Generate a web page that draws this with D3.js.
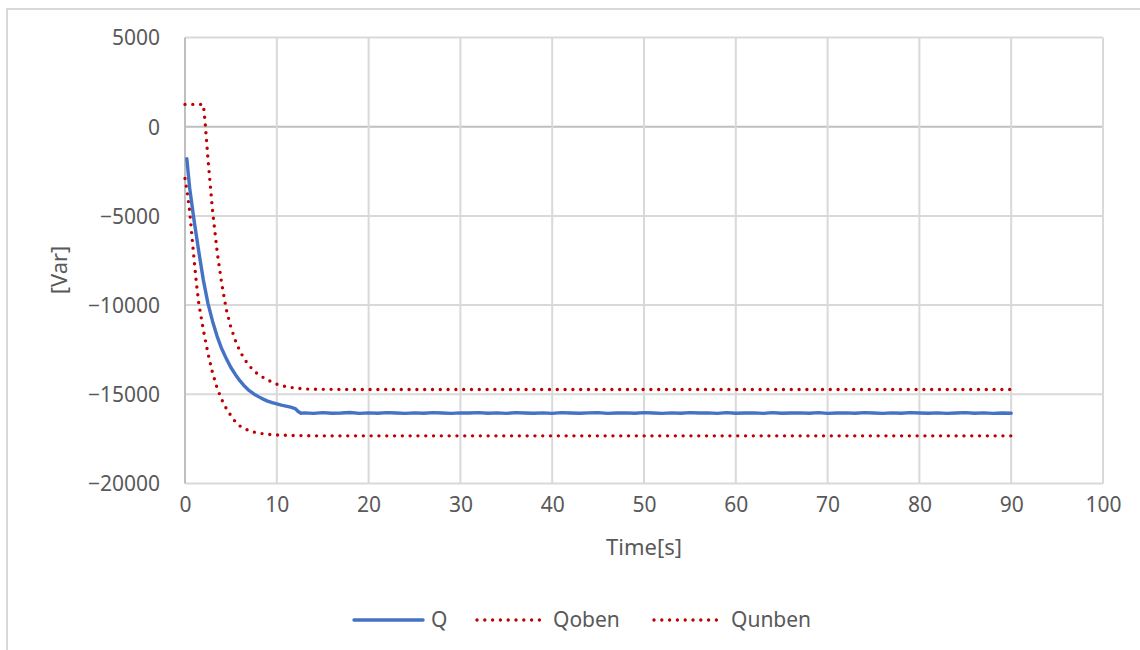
<!DOCTYPE html>
<html>
<head>
<meta charset="utf-8">
<script src="https://cdn.jsdelivr.net/npm/d3@7"></script>
<style>
  html, body { margin: 0; padding: 0; background: #fff; }
  svg { display: block; }
  text { font-family: "Noto Sans", sans-serif; fill: #595959; }
</style>
</head>
<body>
<svg id="chart" width="1140" height="650"></svg>
<script>
// ---- Data ----
const xTicks = [0, 10, 20, 30, 40, 50, 60, 70, 80, 90, 100];
const yTicks = [5000, 0, -5000, -10000, -15000, -20000];

const qTime = [0.2, 0.5, 1.0, 1.5, 2.0, 2.5, 3.0, 3.5, 4.0, 4.5, 5.0, 5.5, 6.0, 6.5, 7.0, 7.5, 8.0, 8.5, 9.0, 9.5, 10.0, 10.5, 11.0, 11.5, 12.0, 12.3, 12.6,
  13, 14, 15, 16, 17, 18, 19, 20, 21, 22, 23, 24, 25, 26, 27, 28, 29, 30,
  31, 32, 33, 34, 35, 36, 37, 38, 39, 40, 41, 42, 43, 44, 45, 46, 47, 48,
  49, 50, 51, 52, 53, 54, 55, 56, 57, 58, 59, 60, 61, 62, 63, 64, 65, 66,
  67, 68, 69, 70, 71, 72, 73, 74, 75, 76, 77, 78, 79, 80, 81, 82, 83, 84,
  85, 86, 87, 88, 89, 90];
const qValue = [-1800, -3400, -5300, -7000, -8600, -9900, -10900, -11750, -12450, -13000, -13500, -13900, -14250, -14550, -14800, -14980, -15130, -15270, -15380, -15470, -15540, -15610, -15660, -15720, -15800, -15950, -16060,
  -16040, -16070, -16030, -16060, -16050, -16020, -16070, -16040, -16060, -16030, -16050, -16070, -16040, -16060, -16030, -16050, -16070, -16040,
  -16050, -16030, -16060, -16040, -16070, -16030, -16050, -16060, -16040, -16070, -16030, -16050, -16060, -16040, -16030, -16070, -16050, -16040,
  -16060, -16030, -16050, -16070, -16040, -16060, -16030, -16050, -16040, -16070, -16030, -16060, -16050, -16040, -16070, -16030, -16060, -16050,
  -16040, -16060, -16030, -16070, -16050, -16040, -16060, -16030, -16050, -16070, -16040, -16060, -16030, -16050, -16060, -16040, -16070, -16050,
  -16030, -16060, -16040, -16070, -16050, -16060];

const obenTime = [0, 1.0, 2.0, 2.2, 2.5, 3.0, 3.5, 4.0, 4.5, 5.0, 5.5, 6.0, 6.5, 7.0, 7.5, 8.0, 9.0, 10.0, 11.0, 12.0, 13.0, 14.0, 20, 30, 40, 50, 60, 70, 80, 90];
const obenValue = [1250, 1250, 1250, 200, -1800, -4700, -7000, -8800, -10250, -11250, -12000, -12600, -13050, -13400, -13680, -13900, -14200, -14430, -14570, -14650, -14700, -14720, -14730, -14730, -14730, -14730, -14730, -14730, -14730, -14730];

const unbenTime = [0, 0.25, 0.5, 0.75, 1.0, 1.25, 1.5, 2.0, 2.5, 3.0, 3.5, 4.0, 4.5, 5.0, 5.5, 6.0, 7.0, 8.0, 9.0, 10.0, 12.0, 14.0, 20, 30, 40, 50, 60, 70, 80, 90];
const unbenValue = [-2900, -3700, -4700, -6100, -7500, -8800, -9900, -11400, -12700, -13800, -14650, -15300, -15800, -16200, -16550, -16780, -17050, -17180, -17240, -17280, -17310, -17330, -17330, -17330, -17330, -17330, -17330, -17330, -17330, -17330];

const seriesNames = ["Q", "Qoben", "Qunben"];

// ---- Layout ----
const svg = d3.select("#chart");
const x = d3.scaleLinear().domain([0, 100]).range([185, 1103]);
const y = d3.scaleLinear().domain([-20000, 5000]).range([483.5, 37.5]);

// outer chart frame
svg.append("rect").attr("x", 7).attr("y", 9).attr("width", 1200).attr("height", 700)
  .attr("fill", "none").attr("stroke", "#d9d9d9").attr("stroke-width", 2);

// gridlines
const gridColor = "#d9d9d9";
svg.append("g").selectAll("line").data(yTicks).join("line")
  .attr("x1", x(0)).attr("x2", x(100))
  .attr("y1", d => y(d)).attr("y2", d => y(d))
  .attr("stroke", d => d === 0 ? "#bfbfbf" : gridColor).attr("stroke-width", 2);
svg.append("g").selectAll("line").data(xTicks).join("line")
  .attr("y1", y(5000)).attr("y2", y(-20000))
  .attr("x1", d => x(d)).attr("x2", d => x(d))
  .attr("stroke", d => d === 0 ? "#bfbfbf" : gridColor).attr("stroke-width", 2);

// axes labels via d3 axes
const yAxis = svg.append("g").attr("transform", `translate(${x(0)},0)`)
  .call(d3.axisLeft(y).tickValues(yTicks).tickSize(0).tickPadding(25).tickFormat(d3.format("d")));
yAxis.select(".domain").remove();
yAxis.selectAll("text").style("font-size", "21px").attr("fill", "#595959").attr("dy", "0.35em");

const xAxis = svg.append("g").attr("transform", `translate(0,${y(-20000)})`)
  .call(d3.axisBottom(x).tickValues(xTicks).tickSize(0).tickPadding(14).tickFormat(d3.format("d")));
xAxis.select(".domain").remove();
xAxis.selectAll("text").style("font-size", "21px").attr("fill", "#595959");

// axis titles
svg.append("text").attr("x", 644).attr("y", 555).attr("text-anchor", "middle")
  .style("font-size", "22px").text("Time[s]");
svg.append("text").attr("transform", "translate(59,270) rotate(-90)")
  .attr("text-anchor", "middle").attr("dy", "0.35em")
  .style("font-size", "22px").text("[Var]");

// lines
const line = d3.line().x(d => x(d[0])).y(d => y(d[1]));
const qData = d3.zip(qTime, qValue);
const obenData = d3.zip(obenTime, obenValue);
const unbenData = d3.zip(unbenTime, unbenValue);

const red = "#C00000", blue = "#4472C4";
function dotted(sel) {
  sel.attr("fill", "none").attr("stroke", red).attr("stroke-width", 3.4)
    .attr("stroke-linecap", "round").attr("stroke-dasharray", "0 7.8");
}
svg.append("path").datum(obenData).attr("d", line).call(dotted);
svg.append("path").datum(unbenData).attr("d", line).call(dotted);
svg.append("path").datum(qData).attr("d", line)
  .attr("fill", "none").attr("stroke", blue).attr("stroke-width", 3.4)
  .attr("stroke-linejoin", "round").attr("stroke-linecap", "round");

// legend
const legendY = 620;
const legendItems = [
  { name: seriesNames[0], x1: 354, x2: 423, tx: 431, dotted: false },
  { name: seriesNames[1], x1: 477, x2: 542, tx: 553, dotted: true },
  { name: seriesNames[2], x1: 654, x2: 719, tx: 731, dotted: true }
];
const lg = svg.append("g");
legendItems.forEach(it => {
  const l = lg.append("line").attr("x1", it.x1).attr("x2", it.x2).attr("y1", legendY).attr("y2", legendY);
  if (it.dotted) l.call(dotted);
  else l.attr("stroke", blue).attr("stroke-width", 3.4).attr("stroke-linecap", "round");
  lg.append("text").attr("x", it.tx).attr("y", legendY).attr("dy", "0.35em")
    .style("font-size", "21px").text(it.name);
});
</script>
</body>
</html>
